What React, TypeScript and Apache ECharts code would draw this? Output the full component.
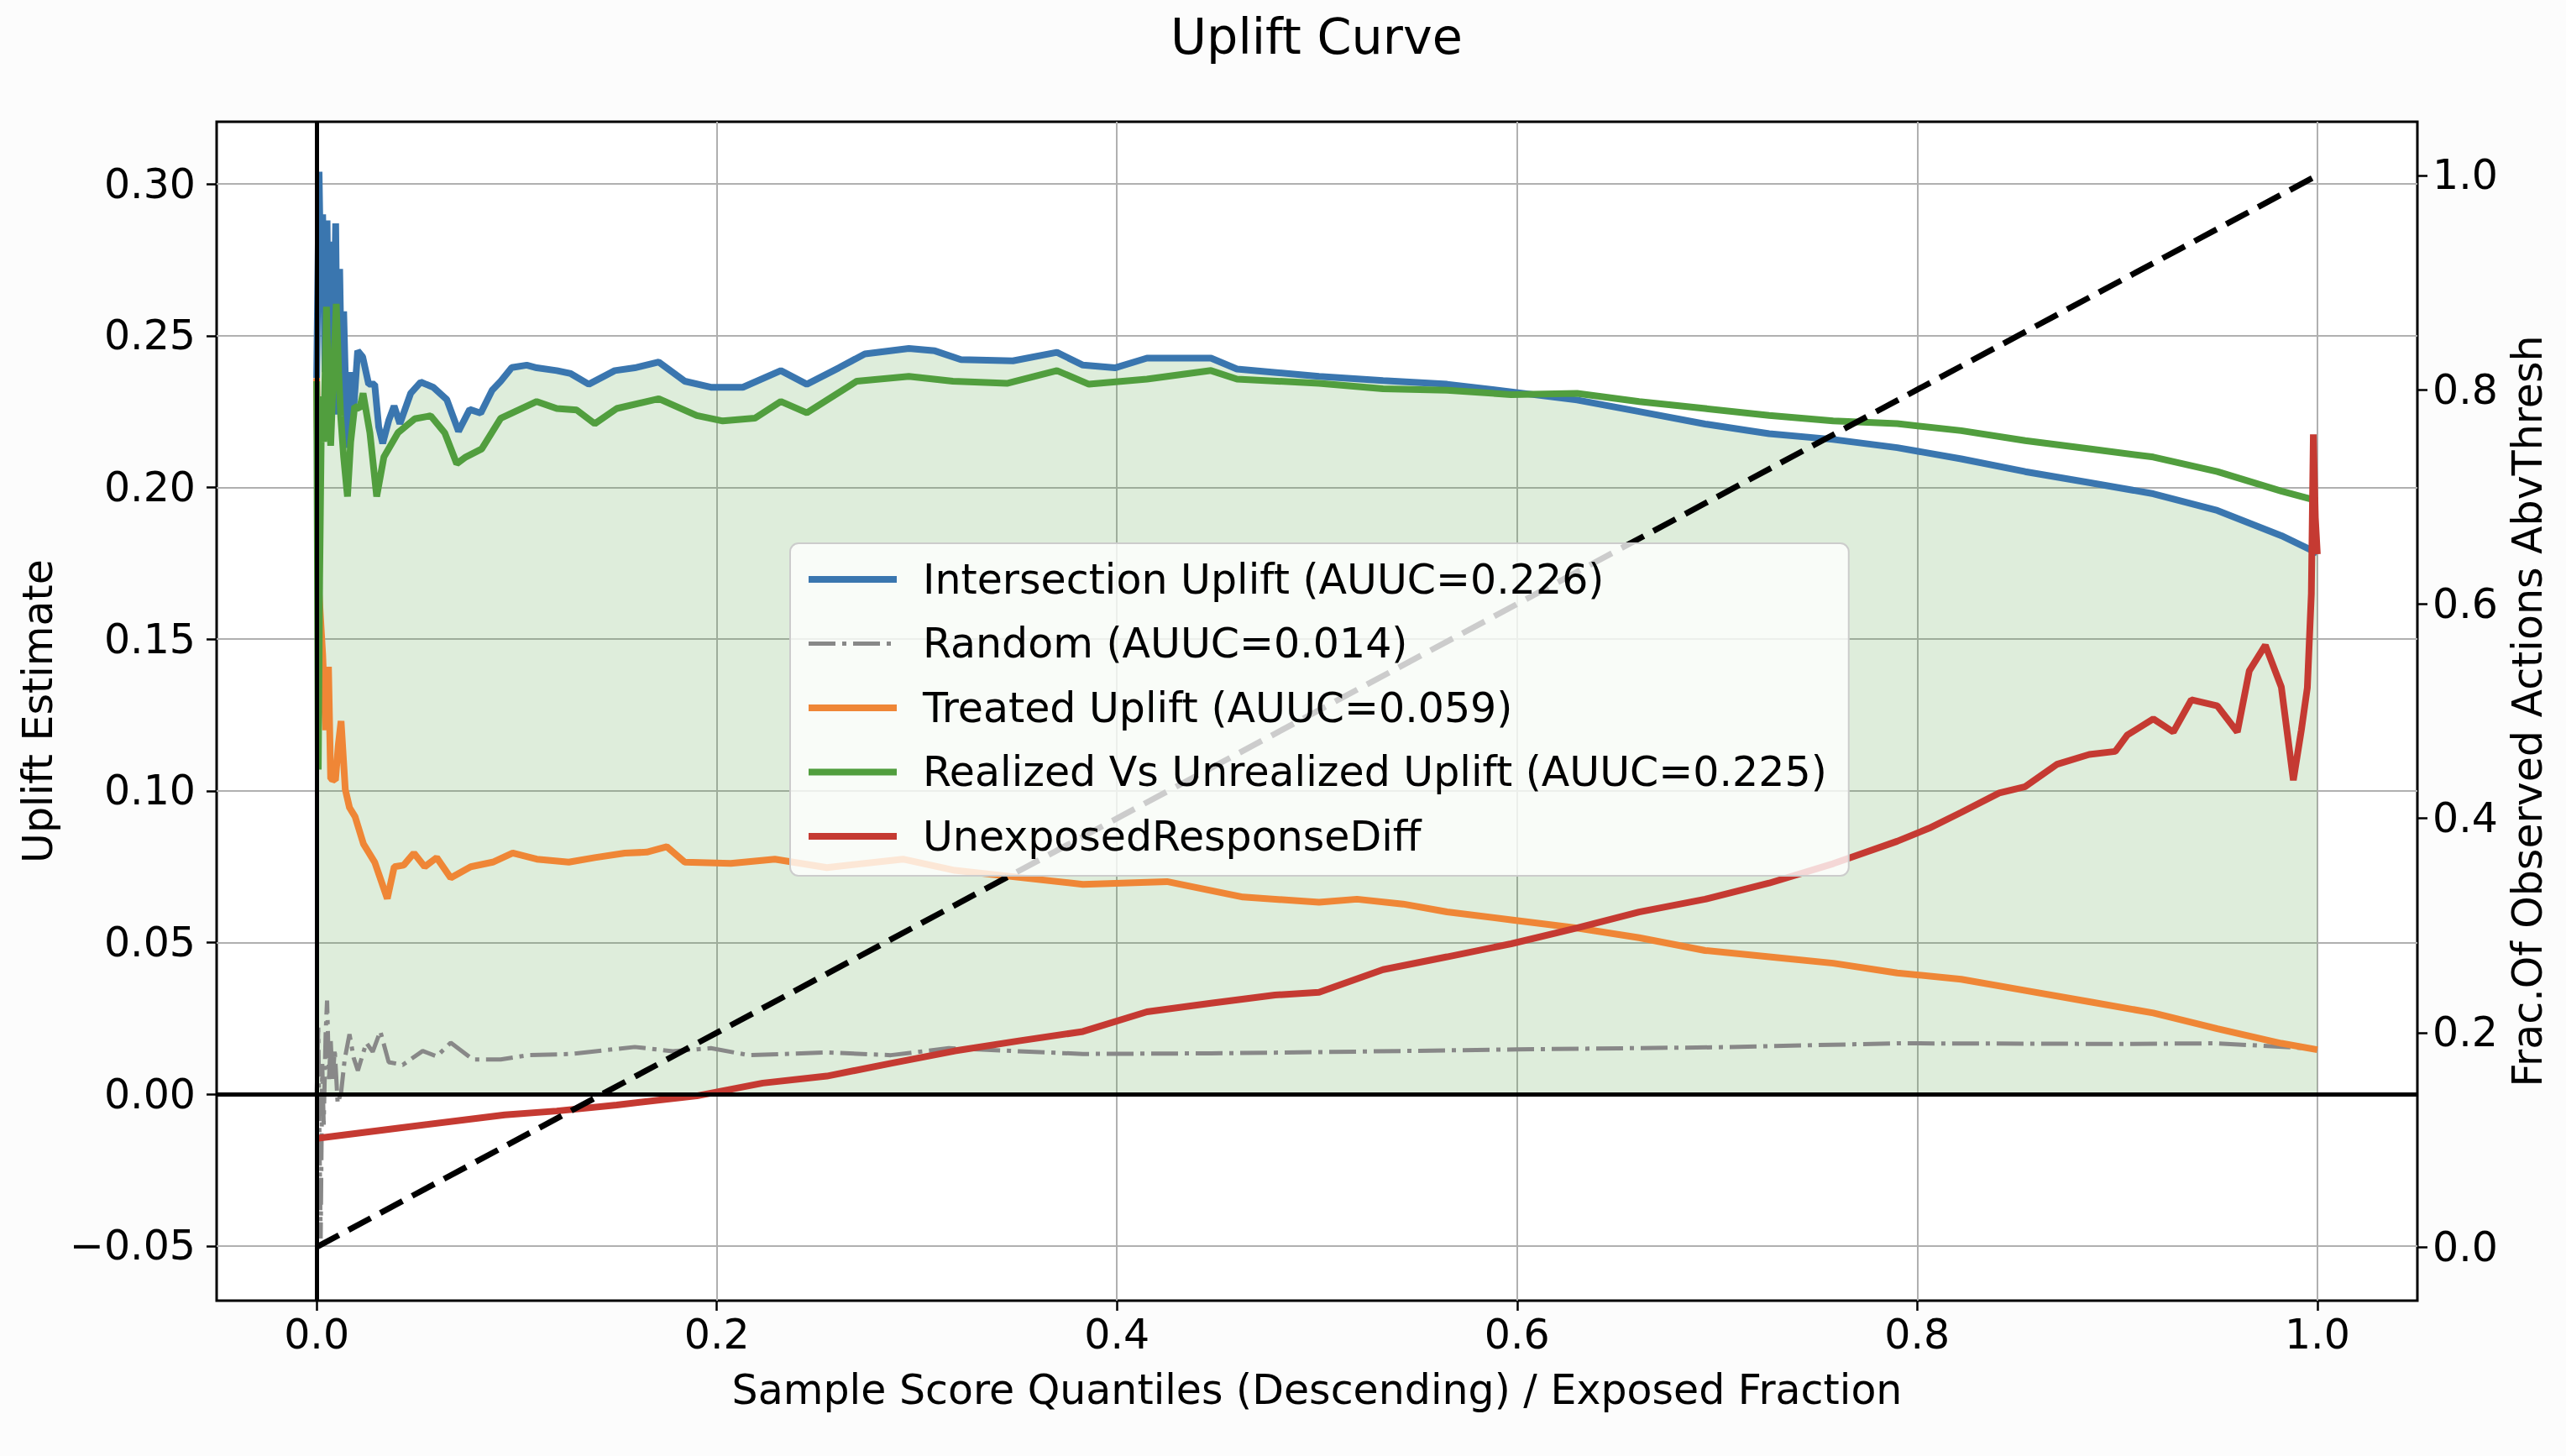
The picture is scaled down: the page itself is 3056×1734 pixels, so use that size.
import React, { useEffect, useRef } from 'react';
import * as echarts from 'echarts';

// ---- tick values ----
const xTicks = [0, 0.2, 0.4, 0.6, 0.8, 1.0];
const leftTicks = [-0.05, 0, 0.05, 0.1, 0.15, 0.2, 0.25, 0.3];
const rightTicks = [0, 0.2, 0.4, 0.6, 0.8, 1.0];

// ---- legend names ----
const names = [
  'Intersection Uplift (AUUC=0.226)',
  'Random (AUUC=0.014)',
  'Treated Uplift (AUUC=0.059)',
  'Realized Vs Unrealized Uplift (AUUC=0.225)',
  'UnexposedResponseDiff',
];

// ---- series values: [quantile, uplift] ----
const intersectionUplift = [
  [0, 0.236], [0.0012, 0.304], [0.0022, 0.262], [0.003, 0.29], [0.0042, 0.238], [0.0052, 0.288],
  [0.0062, 0.228], [0.0072, 0.281], [0.0082, 0.232], [0.0095, 0.287], [0.0105, 0.224], [0.0115, 0.272],
  [0.0125, 0.232], [0.0135, 0.258], [0.0152, 0.213], [0.017, 0.238], [0.0185, 0.226], [0.0205, 0.245],
  [0.023, 0.243], [0.026, 0.234], [0.029, 0.234], [0.031, 0.22], [0.033, 0.2145], [0.036, 0.222],
  [0.0387, 0.2268], [0.0416, 0.221], [0.047, 0.231], [0.052, 0.2347], [0.0583, 0.233], [0.065, 0.229],
  [0.0709, 0.2185], [0.0765, 0.2257], [0.082, 0.2245], [0.0877, 0.232], [0.092, 0.235], [0.0975, 0.2395],
  [0.105, 0.2403], [0.11, 0.2394], [0.12, 0.2385], [0.127, 0.2375], [0.136, 0.234], [0.149, 0.2385],
  [0.159, 0.2394], [0.171, 0.2413], [0.184, 0.235], [0.197, 0.233], [0.213, 0.233], [0.232, 0.2385],
  [0.245, 0.234], [0.261, 0.2394], [0.274, 0.244], [0.296, 0.2458], [0.309, 0.245], [0.322, 0.2421],
  [0.348, 0.2417], [0.37, 0.2445], [0.383, 0.2403], [0.399, 0.2394], [0.415, 0.2426], [0.447, 0.2426],
  [0.46, 0.239], [0.501, 0.2366], [0.533, 0.2352], [0.565, 0.234], [0.597, 0.2315], [0.63, 0.2288],
  [0.661, 0.225], [0.694, 0.2209], [0.726, 0.2177], [0.758, 0.2158], [0.79, 0.2131], [0.822, 0.2094],
  [0.854, 0.2052], [0.886, 0.2016], [0.918, 0.1979], [0.95, 0.1924], [0.982, 0.1841], [1.0, 0.1784],
];

const randomUplift = [
  [0, 0.0], [0.0008, 0.022], [0.0015, -0.02], [0.002, -0.0475], [0.0028, 0.01], [0.0035, -0.01],
  [0.0045, 0.02], [0.0052, 0.0309], [0.0062, 0.005], [0.007, 0.018], [0.008, 0.0041], [0.009, 0.015],
  [0.0105, -0.003], [0.0122, 0.0005], [0.014, 0.0115], [0.0164, 0.0198], [0.0185, 0.012], [0.0206, 0.0078],
  [0.0248, 0.017], [0.028, 0.014], [0.0318, 0.0208], [0.036, 0.0106], [0.043, 0.0097], [0.053, 0.0143],
  [0.06, 0.0125], [0.067, 0.017], [0.078, 0.0115], [0.092, 0.0115], [0.106, 0.0129], [0.127, 0.0133],
  [0.159, 0.0156], [0.178, 0.0142], [0.197, 0.0152], [0.216, 0.0129], [0.255, 0.0138], [0.287, 0.0129],
  [0.316, 0.0152], [0.351, 0.0142], [0.383, 0.0133], [0.447, 0.0135], [0.501, 0.0139], [0.6, 0.0148],
  [0.7, 0.0155], [0.79, 0.0168], [0.9, 0.0166], [0.95, 0.0168], [1.0, 0.015],
];

const treatedUplift = [
  [0, 0.236], [0.0012, 0.165], [0.003, 0.145], [0.0045, 0.12], [0.0059, 0.1409], [0.007, 0.104],
  [0.0094, 0.1035], [0.0108, 0.115], [0.0122, 0.123], [0.0143, 0.1005], [0.0164, 0.0945], [0.0192, 0.0915],
  [0.0234, 0.0825], [0.029, 0.0765], [0.0353, 0.0645], [0.0388, 0.075], [0.0435, 0.0755], [0.0486, 0.0795],
  [0.054, 0.075], [0.06, 0.078], [0.067, 0.0713], [0.077, 0.075], [0.088, 0.0765], [0.098, 0.0795],
  [0.11, 0.0775], [0.126, 0.0765], [0.139, 0.078], [0.154, 0.0795], [0.165, 0.0798], [0.175, 0.0816],
  [0.184, 0.0765], [0.207, 0.0761], [0.229, 0.0775], [0.255, 0.0747], [0.293, 0.0775], [0.319, 0.0738],
  [0.351, 0.0715], [0.383, 0.0692], [0.425, 0.0701], [0.463, 0.065], [0.501, 0.0633], [0.52, 0.0643],
  [0.543, 0.0627], [0.565, 0.0601], [0.597, 0.0575], [0.63, 0.0548], [0.661, 0.0516], [0.694, 0.0474],
  [0.726, 0.0453], [0.758, 0.0432], [0.79, 0.04], [0.822, 0.0379], [0.854, 0.0342], [0.886, 0.0305],
  [0.918, 0.0268], [0.95, 0.0216], [0.982, 0.0168], [1.0, 0.0147],
];

const realizedUplift = [
  [0, 0.235], [0.0008, 0.107], [0.0015, 0.17], [0.0025, 0.23], [0.0035, 0.215], [0.0049, 0.2595],
  [0.006, 0.232], [0.007, 0.2137], [0.0085, 0.24], [0.0098, 0.2605], [0.011, 0.238], [0.012, 0.2236],
  [0.0135, 0.21], [0.0154, 0.197], [0.017, 0.215], [0.019, 0.2267], [0.0215, 0.226], [0.0232, 0.231],
  [0.0266, 0.218], [0.03, 0.197], [0.0336, 0.21], [0.0406, 0.218], [0.049, 0.2226], [0.057, 0.2236],
  [0.064, 0.218], [0.07, 0.2078], [0.0745, 0.21], [0.0825, 0.2127], [0.092, 0.2228], [0.11, 0.2283],
  [0.12, 0.226], [0.13, 0.2255], [0.139, 0.221], [0.15, 0.226], [0.171, 0.2292], [0.19, 0.2237],
  [0.203, 0.2219], [0.219, 0.2228], [0.232, 0.2283], [0.245, 0.2246], [0.27, 0.235], [0.296, 0.2366],
  [0.318, 0.235], [0.345, 0.2343], [0.37, 0.2385], [0.386, 0.234], [0.415, 0.2357], [0.447, 0.2385],
  [0.46, 0.2357], [0.501, 0.2343], [0.533, 0.2325], [0.565, 0.232], [0.597, 0.2306], [0.63, 0.231],
  [0.661, 0.2283], [0.694, 0.226], [0.726, 0.2237], [0.758, 0.2219], [0.79, 0.221], [0.822, 0.2187],
  [0.854, 0.2154], [0.886, 0.2127], [0.918, 0.21], [0.95, 0.2052], [0.982, 0.1988], [1.0, 0.1956],
];

const unexposedResponseDiff = [
  [0, -0.0145], [0.04, -0.0112], [0.094, -0.0068], [0.12, -0.0055], [0.15, -0.0035], [0.19, -0.0005],
  [0.223, 0.0037], [0.255, 0.006], [0.287, 0.0102], [0.319, 0.0143], [0.351, 0.0176], [0.383, 0.0207],
  [0.415, 0.0272], [0.447, 0.03], [0.479, 0.0327], [0.501, 0.0336], [0.533, 0.0411], [0.565, 0.0453],
  [0.597, 0.0496], [0.63, 0.0548], [0.661, 0.0601], [0.694, 0.0643], [0.726, 0.0696], [0.758, 0.076],
  [0.79, 0.0834], [0.806, 0.0877], [0.822, 0.0929], [0.841, 0.0993], [0.854, 0.1014], [0.87, 0.1088],
  [0.886, 0.112], [0.899, 0.113], [0.905, 0.1184], [0.918, 0.1237], [0.928, 0.1194], [0.937, 0.13],
  [0.95, 0.128], [0.96, 0.1194], [0.966, 0.1396], [0.974, 0.148], [0.982, 0.1342], [0.988, 0.1035],
  [0.992, 0.12], [0.995, 0.134], [0.997, 0.165], [0.998, 0.2175], [0.999, 0.19], [1.0, 0.178],
];

// fraction of observed actions above threshold (right axis)
const fracObserved = [[0, 0], [1, 1]];

const FONT = 'DejaVu Sans';

export default function App() {
  const ref = useRef<HTMLDivElement>(null);

  useEffect(() => {
    document.body.style.margin = '0';
    document.body.style.background = '#fcfcfc';
    const chart = echarts.init(ref.current as HTMLDivElement, null, { renderer: 'svg' });

    const txt = { fontFamily: FONT, color: '#000', fontSize: 49 };
    const lineSeries = (name: string, data: number[][], color: string, width: number, extra: any = {}) => ({
      type: 'line',
      name,
      data,
      symbol: 'none',
      showSymbol: false,
      lineStyle: { color, width, ...(extra.lineStyle || {}) },
      itemStyle: { color },
      emphasis: { disabled: true },
      z: 2,
      ...extra.rest,
    });

    chart.setOption({
      animation: false,
      backgroundColor: '#fcfcfc',
      title: {
        text: 'Uplift Curve',
        left: 1568,
        top: 14,
        textAlign: 'center',
        padding: 0,
        textStyle: { ...txt, fontSize: 58.8, fontWeight: 'normal', lineHeight: 58 },
      },
      grid: {
        left: 258,
        right: 177,
        top: 145,
        bottom: 185,
        show: true,
        backgroundColor: '#ffffff',
        borderColor: '#000',
        borderWidth: 3,
      },
      legend: {
        orient: 'vertical',
        left: 941,
        top: 647,
        z: 20,
        data: names,
        padding: [15, 26, 19, 18],
        itemGap: 20.5,
        itemWidth: 105,
        itemHeight: 20,
        backgroundColor: 'rgba(255,255,255,0.8)',
        borderColor: '#cccccc',
        borderWidth: 2,
        borderRadius: 10,
        lineStyle: { width: 'inherit' },
        itemStyle: { opacity: 0 },
        textStyle: { ...txt, lineHeight: 56, padding: [0, 0, 0, 26] },
        selectedMode: false,
      },
      xAxis: {
        type: 'value',
        min: -0.05,
        max: 1.05,
        axisLine: { show: false, onZero: false },
        axisTick: { show: true, length: 12, lineStyle: { color: '#000', width: 2.5 }, customValues: xTicks },
        axisLabel: {
          ...txt,
          customValues: xTicks,
          margin: 16,
          lineHeight: 49,
          formatter: (v: number) => v.toFixed(1),
        },
        splitLine: { show: true, lineStyle: { color: '#b0b0b0', width: 2 } },
        name: 'Sample Score Quantiles (Descending) / Exposed Fraction',
        nameLocation: 'middle',
        nameGap: 82,
        nameTextStyle: { ...txt, lineHeight: 49 },
      },
      yAxis: [
        {
          type: 'value',
          position: 'left',
          min: -0.068,
          max: 0.3205,
          axisLine: { show: false, onZero: false },
          axisTick: { show: true, length: 12, lineStyle: { color: '#000', width: 2.5 }, customValues: leftTicks },
          axisLabel: {
            ...txt,
            customValues: leftTicks,
            margin: 25,
            formatter: (v: number) => (v < 0 ? '\u2212' + Math.abs(v).toFixed(2) : v.toFixed(2)),
          },
          splitLine: { show: true, lineStyle: { color: '#b0b0b0', width: 2 } },
          name: 'Uplift Estimate',
          nameLocation: 'middle',
          nameGap: 188,
          nameTextStyle: { ...txt, lineHeight: 49 },
        },
        {
          type: 'value',
          position: 'right',
          min: -0.05,
          max: 1.05,
          axisLine: { show: false, onZero: false },
          axisTick: { show: true, length: 12, lineStyle: { color: '#000', width: 2.5 }, customValues: rightTicks },
          axisLabel: {
            ...txt,
            customValues: rightTicks,
            margin: 18,
            formatter: (v: number) => v.toFixed(1),
          },
          splitLine: { show: false },
          name: 'Frac.Of Observed Actions AbvThresh',
          nameLocation: 'middle',
          nameGap: 105,
          nameTextStyle: { ...txt, lineHeight: 49 },
        },
      ],
      series: [
        lineSeries(names[0], intersectionUplift, '#3a76af', 8, {
          rest: { areaStyle: { color: 'rgba(81,158,62,0.27)', origin: 'auto' } },
        }),
        lineSeries(names[1], randomUplift, '#888888', 5, { lineStyle: { type: [32, 8, 5, 8] } }),
        lineSeries(names[2], treatedUplift, '#ef8636', 8),
        lineSeries(names[3], realizedUplift, '#519e3e', 8),
        lineSeries(names[4], unexposedResponseDiff, '#c53a32', 8, {
          rest: {
            markLine: {
              silent: true,
              symbol: ['none', 'none'],
              label: { show: false },
              lineStyle: { color: '#000', width: 5, type: 'solid' },
              emphasis: { disabled: true },
              data: [{ yAxis: 0 }, { xAxis: 0 }],
            },
          },
        }),
        {
          type: 'line',
          name: 'fracObserved',
          yAxisIndex: 1,
          data: fracObserved,
          symbol: 'none',
          showSymbol: false,
          lineStyle: { color: '#000', width: 7, type: [30, 13] },
          itemStyle: { color: '#000' },
          emphasis: { disabled: true },
          z: 6,
        },
      ],
    });

    return () => chart.dispose();
  }, []);

  return (
    <div
      ref={ref}
      style={{ position: 'fixed', left: 0, top: 0, width: 3056, height: 1734, background: '#fcfcfc' }}
    />
  );
}
